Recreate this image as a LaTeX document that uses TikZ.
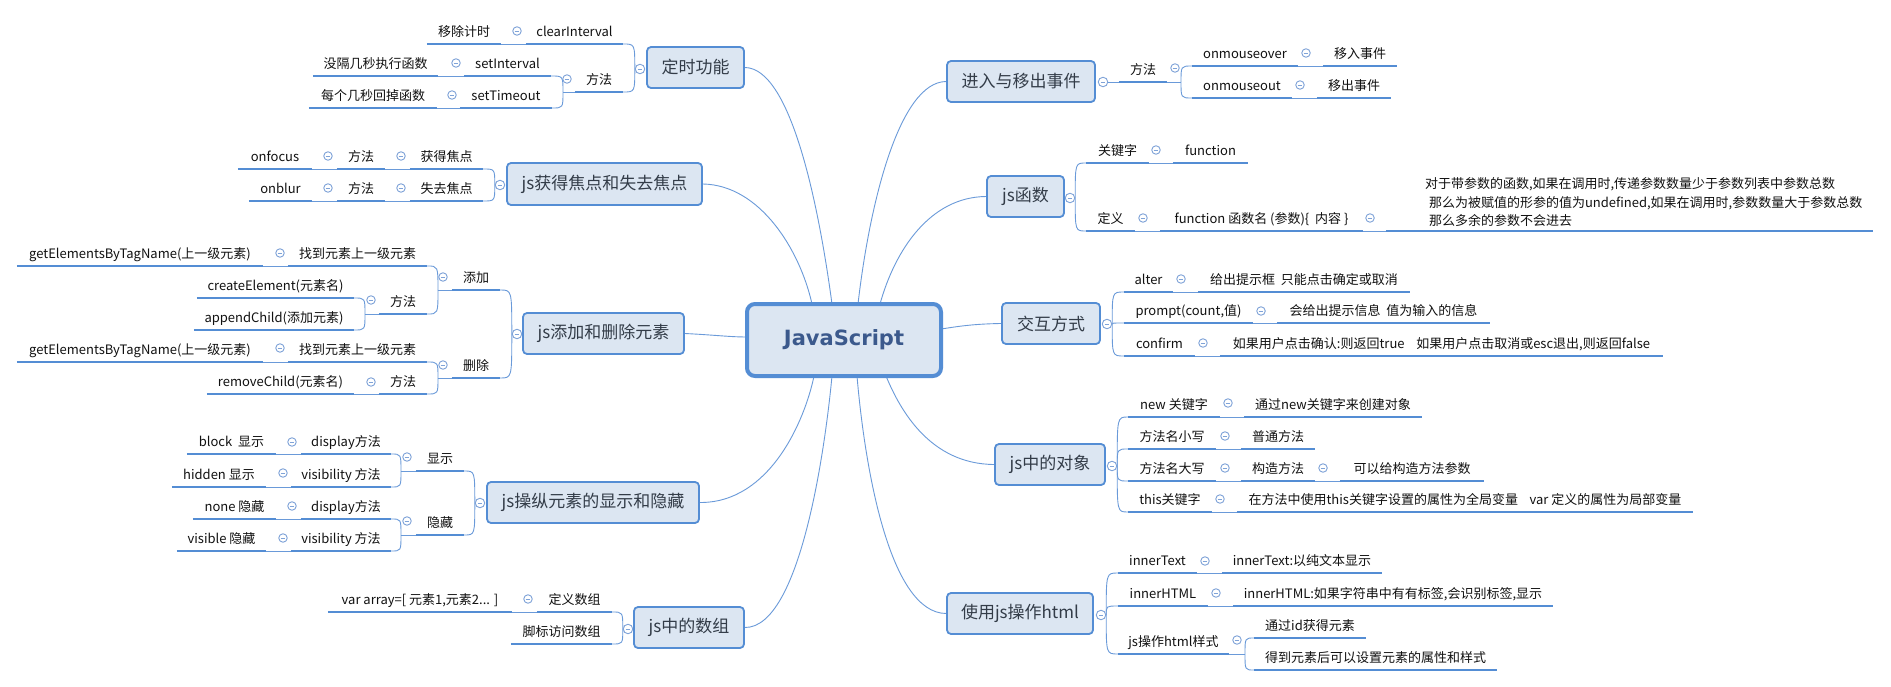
\documentclass[tikz,border=0pt]{standalone}
\usepackage{fontspec}
\setmainfont{Noto Sans CJK SC}
\newfontfamily\jsfont{DejaVu Sans}
\definecolor{boxfill}{HTML}{DCE6F2}
\definecolor{boxdraw}{HTML}{548DD4}
\definecolor{ulc}{HTML}{548DD4}
\definecolor{connc}{HTML}{6A9AD9}
\definecolor{cbc}{HTML}{7FA3D8}
\definecolor{topictext}{HTML}{333C48}
\definecolor{jstext}{HTML}{3B598C}
\definecolor{leaftext}{HTML}{111111}
\newcommand\leaffont{\fontsize{13}{16}\selectfont}
\newcommand\topicfont{\fontsize{17}{20}\selectfont}
\pgfdeclarelayer{bg}
\pgfsetlayers{bg,main}
\tikzset{
  leaf/.style={inner xsep=0pt, inner ysep=4pt, text height=10pt, text depth=3pt, font=\leaffont, text=leaftext, anchor=south},
  uline/.style={draw=ulc, line width=2.6pt},
  conn/.style={draw=connc, line width=0.9pt},
  topic/.style={draw=boxdraw, fill=boxfill, line width=1.8pt, rounded corners=4pt, inner sep=0pt, font=\topicfont, text=topictext},
  centerbox/.style={draw=boxdraw, fill=boxfill, line width=4pt, rounded corners=8pt, inner sep=0pt, font={\fontsize{21}{25}\jsfont\bfseries}, text=jstext},
  cbtn/.style={circle, draw=cbc, fill=white, minimum size=8.5pt, inner sep=0pt, line width=0.9pt,
    path picture={\draw[cbc, line width=0.9pt] ([xshift=-2.3pt]path picture bounding box.center) -- ([xshift=2.3pt]path picture bounding box.center);}},
  tbtn/.style={cbtn, minimum size=9.5pt}
}
\newcommand\lf[5]{%
  \node[leaf, minimum width={#3-#2}] (#1) at ({(#2+#3)/2},#4) {#5};
  \draw[uline] (#1.south west) -- (#1.south east);}
\newcommand\cb[3]{\node[cbtn] (#1) at (#2,#3) {};}
\newcommand\tb[3]{\node[tbtn] (#1) at (#2,#3) {};}
\begin{document}
\begin{tikzpicture}[x=1pt,y=-1pt]
\begin{pgfonlayer}{bg}
\fill[white] (0,0) rectangle (1891,687);
\end{pgfonlayer}
\useasboundingbox (0,0) rectangle (1891,687);

% ---------- center ----------
\node[centerbox, minimum width=194pt, minimum height=72pt] (JS) at (844,340) {JavaScript};
\coordinate (jt1) at (832,304);
\coordinate (jt2) at (812,304);
\coordinate (jl3) at (747,337);
\coordinate (jb4) at (814,376);
\coordinate (jb5) at (832,376);
\coordinate (jt6) at (858,304);
\coordinate (jt7) at (880,304);
\coordinate (jr8) at (941,329);
\coordinate (jb9) at (886,376);
\coordinate (jb10) at (857,376);

% ---------- topics ----------
\node[topic, minimum width=97pt, minimum height=41pt] (T1) at (695.5,67.5) {定时功能};
\node[topic, minimum width=195pt, minimum height=42pt] (T2) at (604.5,184) {js获得焦点和失去焦点};
\node[topic, minimum width=161pt, minimum height=41pt] (T3) at (603.5,333.5) {js添加和删除元素};
\node[topic, minimum width=212pt, minimum height=41pt] (T4) at (593,502.5) {js操纵元素的显示和隐藏};
\node[topic, minimum width=110pt, minimum height=41pt] (T5) at (689,627.5) {js中的数组};
\node[topic, minimum width=148pt, minimum height=41pt] (R1) at (1021,81.5) {进入与移出事件};
\node[topic, minimum width=77pt, minimum height=41pt] (R2) at (1025.5,196.5) {js函数};
\node[topic, minimum width=98pt, minimum height=41pt] (R3) at (1051,323.5) {交互方式};
\node[topic, minimum width=110pt, minimum height=41pt] (R4) at (1050,464.5) {js中的对象};
\node[topic, minimum width=146pt, minimum height=41pt] (R5) at (1020,613.5) {使用js操作html};

\tb{cT1}{640}{69}
\tb{cT2}{500}{185}
\tb{cT3}{517}{334}
\tb{cT4}{480}{503}
\tb{cT5}{628}{629}
\tb{cR1}{1103}{82}
\tb{cR2}{1070}{198}
\tb{cR3}{1107}{324}
\tb{cR4}{1112}{466}
\tb{cR5}{1101}{615}

% ---------- 定时功能 ----------
\lf{l1a}{526}{623}{44}{clearInterval}
\cb{c1a}{517}{31}
\lf{l1b}{427}{501}{44}{移除计时}
\lf{m1}{575}{623}{92}{方法}
\cb{cm1}{567}{79}
\coordinate (j1) at (563,92);
\lf{l1c}{464}{551}{76}{setInterval}
\cb{c1c}{456}{63}
\lf{l1d}{313}{438}{76}{没隔几秒执行函数}
\lf{l1e}{460}{552}{108}{setTimeout}
\cb{c1e}{452}{95}
\lf{l1f}{309}{437}{108}{每个几秒回掉函数}

% ---------- 焦点 ----------
\lf{l2a}{410}{483}{169}{获得焦点}
\cb{c2a}{401}{156}
\lf{l2b}{337}{385}{169}{方法}
\cb{c2b}{328}{156}
\lf{l2c}{238}{312}{169}{onfocus}
\lf{l2d}{410}{483}{201}{失去焦点}
\cb{c2d}{401}{188}
\lf{l2e}{337}{385}{201}{方法}
\cb{c2e}{328}{188}
\lf{l2f}{249}{312}{201}{onblur}

% ---------- 添加和删除 ----------
\lf{l3a}{452}{500}{290}{添加}
\cb{c3a}{443}{277}
\coordinate (j3a) at (438,290);
\lf{l3b}{452}{500}{378}{删除}
\cb{c3b}{443}{365}
\coordinate (j3b) at (438,378);
\lf{l3c}{288}{427}{266}{找到元素上一级元素}
\cb{c3c}{280}{253}
\lf{l3d}{17}{263}{266}{getElementsByTagName(上一级元素)}
\lf{l3e}{379}{427}{314}{方法}
\cb{c3e}{371}{300}
\coordinate (j3e) at (365,314);
\lf{l3f}{197}{354}{298}{createElement(元素名)}
\lf{l3g}{194}{354}{330}{appendChild(添加元素)}
\lf{l3h}{288}{427}{362}{找到元素上一级元素}
\cb{c3h}{280}{348}
\lf{l3i}{17}{263}{362}{getElementsByTagName(上一级元素)}
\lf{l3j}{379}{427}{394}{方法}
\cb{c3j}{371}{382}
\lf{l3k}{207}{354}{394}{removeChild(元素名)}

% ---------- 显示和隐藏 ----------
\lf{l4a}{416}{464}{471}{显示}
\cb{c4a}{407}{457}
\coordinate (j4a) at (401,471);
\lf{l4b}{416}{464}{535}{隐藏}
\cb{c4b}{407}{521}
\coordinate (j4b) at (401,535);
\lf{l4c}{301}{391}{454}{display方法}
\cb{c4c}{292}{442}
\lf{l4d}{187}{276}{454}{block\ \ 显示}
\lf{l4e}{291}{391}{487}{visibility 方法}
\cb{c4e}{283}{473}
\lf{l4f}{172}{266}{487}{hidden 显示}
\lf{l4g}{301}{391}{519}{display方法}
\cb{c4g}{292}{506}
\lf{l4h}{193}{276}{519}{none 隐藏}
\lf{l4i}{291}{391}{551}{visibility 方法}
\cb{c4i}{283}{538}
\lf{l4j}{177}{266}{551}{visible 隐藏}

% ---------- 数组 ----------
\lf{l5a}{537}{612}{612}{定义数组}
\cb{c5a}{528}{599}
\lf{l5b}{328}{512}{612}{var array=[ 元素1,元素2... ]}
\lf{l5c}{511}{612}{644}{脚标访问数组}

% ---------- 进入与移出事件 ----------
\lf{r1a}{1119}{1167}{82}{方法}
\cb{cr1a}{1175}{68}
\coordinate (jr1) at (1181,82);
\lf{r1b}{1192}{1298}{66}{onmouseover}
\cb{cr1b}{1306}{53}
\lf{r1c}{1323}{1397}{66}{移入事件}
\lf{r1d}{1192}{1292}{98}{onmouseout}
\cb{cr1d}{1300}{85}
\lf{r1e}{1317}{1391}{98}{移出事件}

% ---------- js函数 ----------
\lf{r2a}{1086}{1149}{163}{关键字}
\cb{cr2a}{1156}{150}
\lf{r2b}{1173}{1248}{163}{function}
\lf{r2c}{1086}{1135}{231}{定义}
\cb{cr2c}{1143}{218}
\lf{r2d}{1160}{1363}{231}{function 函数名 (参数)\{\ \ 内容 \}}
\cb{cr2d}{1370}{218}
\node[inner xsep=0pt, inner ysep=4pt, font={\fontsize{13}{18.5}\selectfont}, text=leaftext, anchor=south, text width=487pt, align=left] (r2e) at (1629.5,231) {\hspace*{39pt}对于带参数的函数,如果在调用时,传递参数数量少于参数列表中参数总数\\\hspace*{43pt}那么为被赋值的形参的值为undefined,如果在调用时,参数数量大于参数总数\\\hspace*{43pt}那么多余的参数不会进去};
\draw[uline] (r2e.south west) -- (r2e.south east);

% ---------- 交互方式 ----------
\lf{r3a}{1124}{1173}{292}{alter}
\cb{cr3a}{1181}{279}
\lf{r3b}{1198}{1410}{292}{给出提示框\ \ 只能点击确定或取消}
\lf{r3c}{1124}{1253}{323}{prompt(count,值)}
\cb{cr3c}{1261}{311}
\lf{r3d}{1277}{1490}{323}{会给出提示信息\ \ 值为输入的信息}
\lf{r3e}{1124}{1195}{356}{confirm}
\cb{cr3e}{1203}{343}
\lf{r3f}{1220}{1663}{356}{如果用户点击确认:则返回true\ \ \ \ 如果用户点击取消或esc退出,则返回false}

% ---------- js中的对象 ----------
\lf{r4a}{1128}{1220}{417}{new 关键字}
\cb{cr4a}{1228}{403}
\lf{r4b}{1244}{1422}{417}{通过new关键字来创建对象}
\lf{r4c}{1128}{1216}{449}{方法名小写}
\cb{cr4c}{1225}{436}
\lf{r4d}{1241}{1315}{449}{普通方法}
\lf{r4e}{1128}{1216}{481}{方法名大写}
\cb{cr4e}{1225}{468}
\lf{r4f}{1241}{1315}{481}{构造方法}
\cb{cr4f}{1323}{468}
\lf{r4g}{1340}{1484}{481}{可以给构造方法参数}
\lf{r4h}{1128}{1212}{512}{this关键字}
\cb{cr4h}{1220}{499}
\lf{r4i}{1237}{1693}{512}{在方法中使用this关键字设置的属性为全局变量\ \ \ \ var 定义的属性为局部变量}

% ---------- 使用js操作html ----------
\lf{r5a}{1118}{1197}{573}{innerText}
\cb{cr5a}{1205}{561}
\lf{r5b}{1222}{1382}{573}{innerText:以纯文本显示}
\lf{r5c}{1118}{1208}{606}{innerHTML}
\cb{cr5c}{1216}{593}
\lf{r5d}{1233}{1553}{606}{innerHTML:如果字符串中有有标签,会识别标签,显示}
\lf{r5e}{1118}{1229}{654}{js操作html样式}
\cb{cr5e}{1237}{640}
\coordinate (jr5) at (1245,654);
\lf{r5f}{1254}{1366}{638}{通过id获得元素}
\lf{r5g}{1254}{1497}{670}{得到元素后可以设置元素的属性和样式}

% ---------- connectors ----------
\begin{pgfonlayer}{bg}
% center to topics
\draw[conn] (T1.east) .. controls (790,68) and (818,200) .. (jt1);
\draw[conn] (T2.east) .. controls (760,185) and (800,250) .. (jt2);
\draw[conn] (T3.east) .. controls (715,335) and (730,337) .. (jl3);
\draw[conn] (T4.east) .. controls (770,503) and (805,420) .. (jb4);
\draw[conn] (T5.east) .. controls (800,628) and (825,450) .. (jb5);
\draw[conn] (R1.west) .. controls (900,82) and (870,200) .. (jt6);
\draw[conn] (R2.west) .. controls (930,197) and (895,250) .. (jt7);
\draw[conn] (R3.west) .. controls (970,324) and (955,327) .. (jr8);
\draw[conn] (R4.west) .. controls (930,464) and (900,410) .. (jb9);
\draw[conn] (R5.west) .. controls (890,613) and (865,470) .. (jb10);

% 定时功能
\foreach \c in {l1a,m1} \draw[conn] (cT1.west) .. controls (cT1.west |- \c.south east) .. (\c.south east);
\draw[conn] (l1a.south west) -- (l1b.south east);
\draw[conn] (m1.south west) -- (j1);
\foreach \c in {l1c,l1e} \draw[conn] (j1) .. controls (j1 |- \c.south east) .. (\c.south east);
\draw[conn] (l1c.south west) -- (l1d.south east);
\draw[conn] (l1e.south west) -- (l1f.south east);

% 焦点
\foreach \c in {l2a,l2d} \draw[conn] (cT2.west) .. controls (cT2.west |- \c.south east) .. (\c.south east);
\draw[conn] (l2a.south west) -- (l2b.south east);
\draw[conn] (l2b.south west) -- (l2c.south east);
\draw[conn] (l2d.south west) -- (l2e.south east);
\draw[conn] (l2e.south west) -- (l2f.south east);

% 添加和删除
\foreach \c in {l3a,l3b} \draw[conn] (cT3.west) .. controls (cT3.west |- \c.south east) .. (\c.south east);
\draw[conn] (l3a.south west) -- (j3a);
\foreach \c in {l3c,l3e} \draw[conn] (j3a) .. controls (j3a |- \c.south east) .. (\c.south east);
\draw[conn] (l3c.south west) -- (l3d.south east);
\draw[conn] (l3e.south west) -- (j3e);
\foreach \c in {l3f,l3g} \draw[conn] (j3e) .. controls (j3e |- \c.south east) .. (\c.south east);
\draw[conn] (l3b.south west) -- (j3b);
\foreach \c in {l3h,l3j} \draw[conn] (j3b) .. controls (j3b |- \c.south east) .. (\c.south east);
\draw[conn] (l3h.south west) -- (l3i.south east);
\draw[conn] (l3j.south west) -- (l3k.south east);

% 显示和隐藏
\foreach \c in {l4a,l4b} \draw[conn] (cT4.west) .. controls (cT4.west |- \c.south east) .. (\c.south east);
\draw[conn] (l4a.south west) -- (j4a);
\foreach \c in {l4c,l4e} \draw[conn] (j4a) .. controls (j4a |- \c.south east) .. (\c.south east);
\draw[conn] (l4b.south west) -- (j4b);
\foreach \c in {l4g,l4i} \draw[conn] (j4b) .. controls (j4b |- \c.south east) .. (\c.south east);
\draw[conn] (l4c.south west) -- (l4d.south east);
\draw[conn] (l4e.south west) -- (l4f.south east);
\draw[conn] (l4g.south west) -- (l4h.south east);
\draw[conn] (l4i.south west) -- (l4j.south east);

% 数组
\foreach \c in {l5a,l5c} \draw[conn] (cT5.west) .. controls (cT5.west |- \c.south east) .. (\c.south east);
\draw[conn] (l5a.south west) -- (l5b.south east);

% 进入与移出事件
\draw[conn] (cR1.east) -- (r1a.south west);
\draw[conn] (r1a.south east) -- (jr1);
\foreach \c in {r1b,r1d} \draw[conn] (jr1) .. controls (jr1 |- \c.south west) .. (\c.south west);
\draw[conn] (r1b.south east) -- (r1c.south west);
\draw[conn] (r1d.south east) -- (r1e.south west);

% js函数
\foreach \c in {r2a,r2c} \draw[conn] (cR2.east) .. controls (cR2.east |- \c.south west) .. (\c.south west);
\draw[conn] (r2a.south east) -- (r2b.south west);
\draw[conn] (r2c.south east) -- (r2d.south west);
\draw[conn] (r2d.south east) -- (r2e.south west);

% 交互方式
\foreach \c in {r3a,r3c,r3e} \draw[conn] (cR3.east) .. controls (cR3.east |- \c.south west) .. (\c.south west);
\draw[conn] (r3a.south east) -- (r3b.south west);
\draw[conn] (r3c.south east) -- (r3d.south west);
\draw[conn] (r3e.south east) -- (r3f.south west);

% js中的对象
\foreach \c in {r4a,r4c,r4e,r4h} \draw[conn] (cR4.east) .. controls (cR4.east |- \c.south west) .. (\c.south west);
\draw[conn] (r4a.south east) -- (r4b.south west);
\draw[conn] (r4c.south east) -- (r4d.south west);
\draw[conn] (r4e.south east) -- (r4f.south west);
\draw[conn] (r4f.south east) -- (r4g.south west);
\draw[conn] (r4h.south east) -- (r4i.south west);

% 使用js操作html
\foreach \c in {r5a,r5c,r5e} \draw[conn] (cR5.east) .. controls (cR5.east |- \c.south west) .. (\c.south west);
\draw[conn] (r5a.south east) -- (r5b.south west);
\draw[conn] (r5c.south east) -- (r5d.south west);
\draw[conn] (r5e.south east) -- (jr5);
\foreach \c in {r5f,r5g} \draw[conn] (jr5) .. controls (jr5 |- \c.south west) .. (\c.south west);
\end{pgfonlayer}
\end{tikzpicture}
\end{document}
